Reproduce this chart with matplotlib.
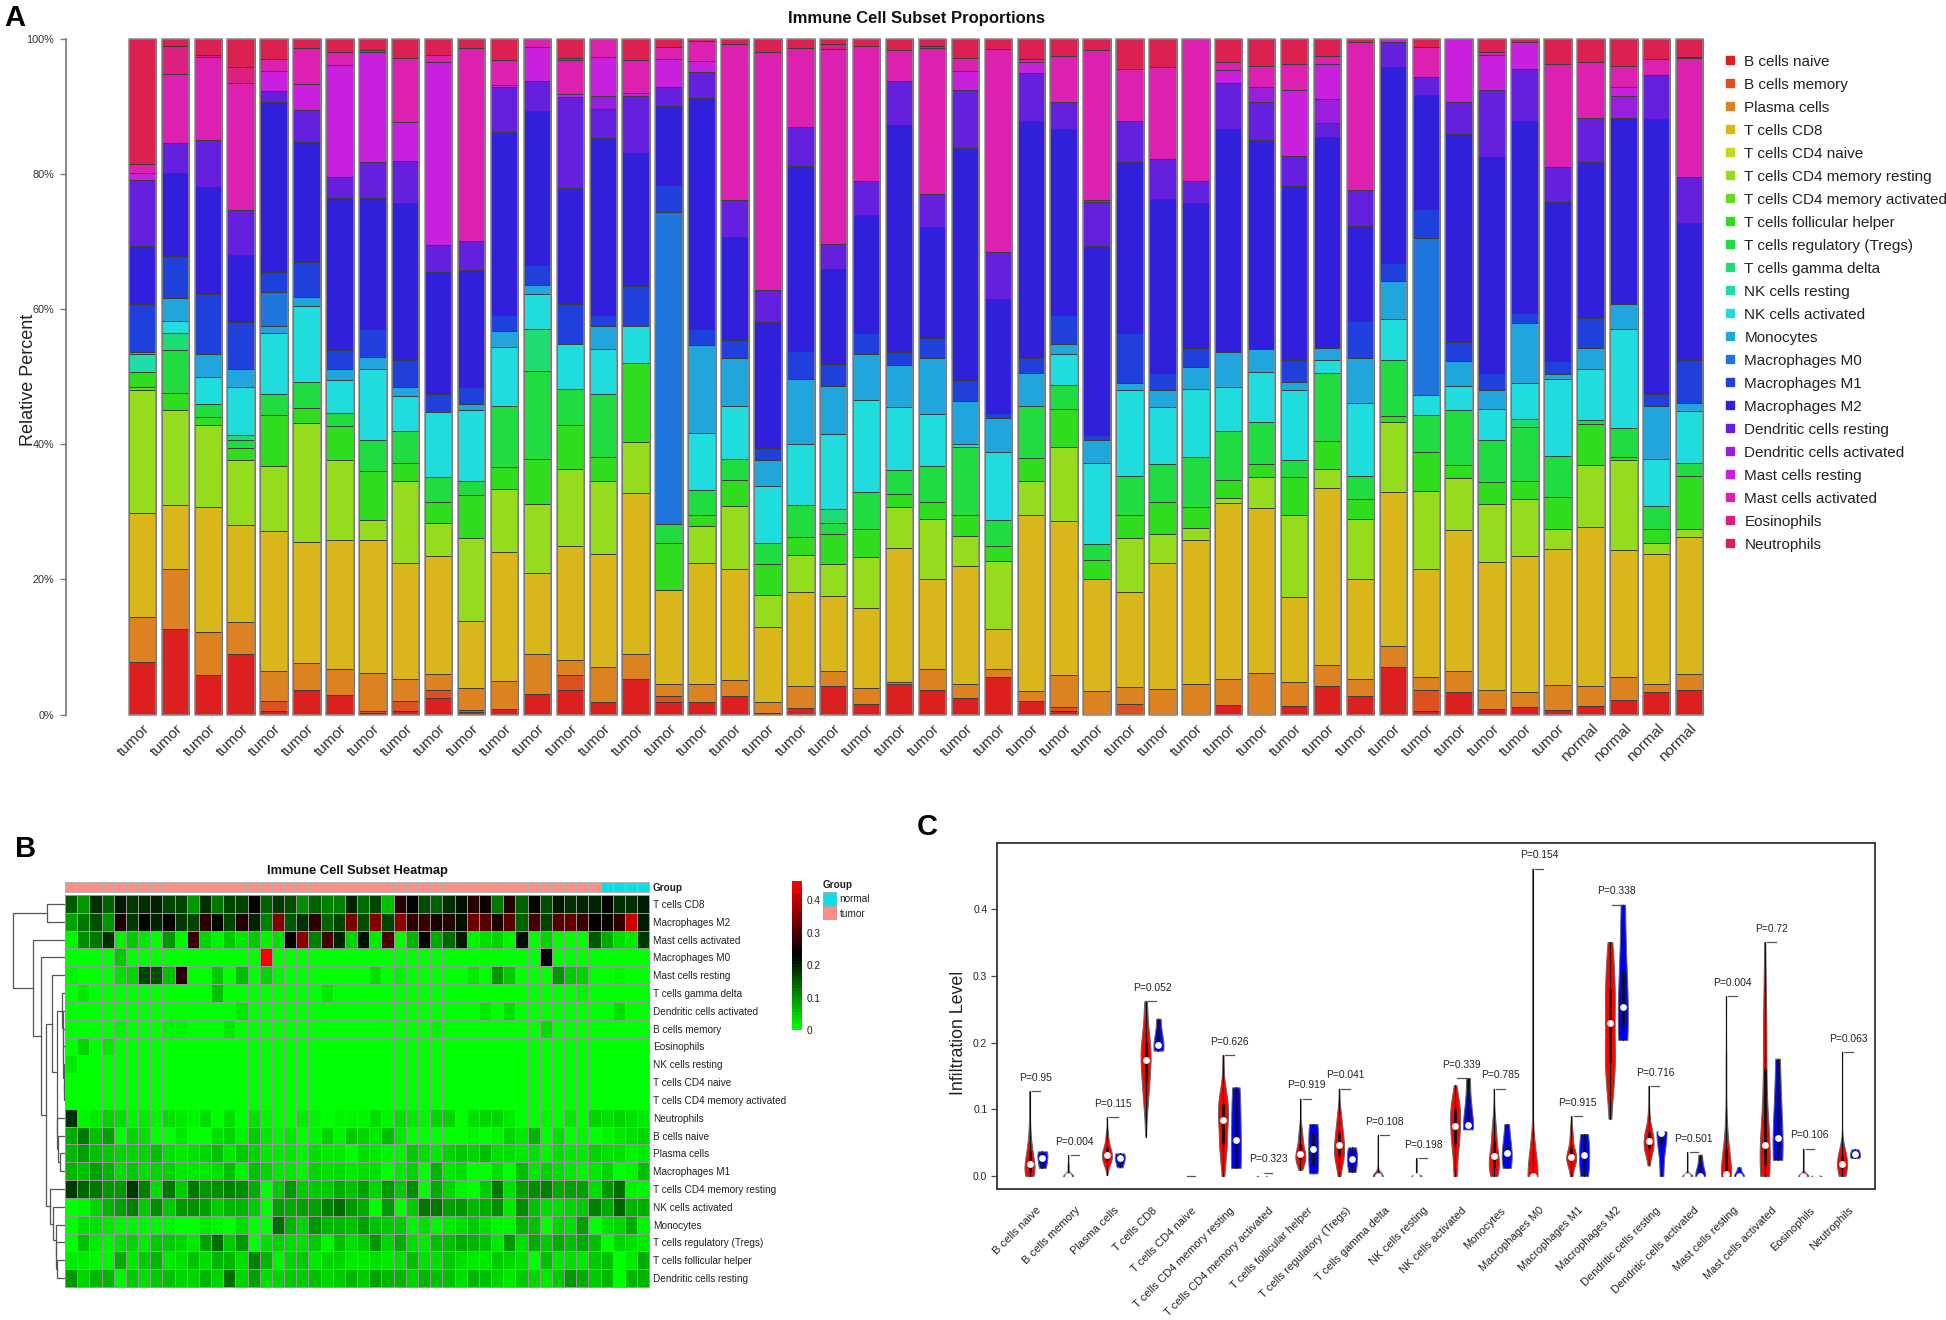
import numpy as np
import matplotlib
matplotlib.use("Agg")
import matplotlib.pyplot as plt
from matplotlib.colors import LinearSegmentedColormap, ListedColormap
from matplotlib.lines import Line2D
from matplotlib.patches import Rectangle

plt.rcParams['font.family'] = ['Liberation Sans', 'DejaVu Sans']

W, H = 1946, 1320

cell_types = ["B cells naive", "B cells memory", "Plasma cells", "T cells CD8", "T cells CD4 naive",
              "T cells CD4 memory resting", "T cells CD4 memory activated", "T cells follicular helper",
              "T cells regulatory (Tregs)", "T cells gamma delta", "NK cells resting", "NK cells activated",
              "Monocytes", "Macrophages M0", "Macrophages M1", "Macrophages M2", "Dendritic cells resting",
              "Dendritic cells activated", "Mast cells resting", "Mast cells activated", "Eosinophils", "Neutrophils"]
keys = "abcdefghijklmnopqrstuv"
colors = ["#DC2020", "#DC5020", "#DC8220", "#D9B61C", "#C9D61E", "#96DC1E", "#64DC1E", "#30DC1E", "#20DC40",
          "#1EDC72", "#20DCA8", "#20DCDC", "#20A5DC", "#2075DC", "#2040DC", "#3020DC", "#6420DC", "#9820DC",
          "#C820DC", "#DC20B0", "#DC2080", "#DC2050"]

# cumulative tops (percent) of each stacked segment, read per sample
s01 = dict(a=7.8, c=14.5, d=29.9, f=48.0, g=48.5, h=50.7, k=53.4, m=53.7, o=60.8, p=69.4, q=79.1, s=80.1, t=81.4, v=100)
s02 = dict(a=12.7, c=21.5, d=31.0, f=45.0, h=47.6, i=53.9, j=56.5, l=58.3, m=61.7, o=67.8, p=80.2, q=84.6, t=94.8, u=98.9, v=100)
s03 = dict(a=5.8, c=12.2, d=30.7, f=42.8, h=44.1, i=46.0, l=49.9, m=53.3, o=62.3, p=78.0, q=85.0, t=97.3, u=97.6, v=100)
s04 = dict(a=9.0, c=13.7, d=28.1, f=37.6, h=39.4, i=40.7, j=41.3, l=48.5, m=51.2, o=58.1, p=68.0, q=74.7, t=93.4, u=95.8, v=100)
s05 = dict(a=0.6, b=2.0, c=6.5, d=27.1, f=36.8, h=44.4, i=47.5, l=56.4, m=57.5, n=62.6, o=65.5, p=90.7, q=92.3, s=95.3, t=97.0, v=100)
s06 = dict(a=3.7, c=7.6, d=25.6, f=43.1, h=45.4, i=49.2, l=60.4, m=61.8, o=66.9, p=84.8, q=89.5, s=93.3, t=98.6, v=100)
s07 = dict(a=2.9, c=6.7, d=25.9, f=37.6, h=42.7, i=44.7, l=49.5, m=51.1, o=53.9, p=76.4, q=79.5, s=96.1, t=98.1, v=100)
s08 = dict(a=0.3, b=0.6, c=6.2, d=25.8, f=28.8, h=36.0, i=40.7, l=51.2, m=52.9, o=57.1, p=76.5, q=81.7, s=98.1, t=98.3, v=100)
s09 = dict(a=0.5, b=2.0, c=5.2, d=22.5, f=34.6, h=37.2, i=41.9, l=47.1, m=48.5, o=52.5, p=75.7, q=81.9, s=87.7, t=97.1, v=100)
s10 = dict(a=2.4, b=3.7, c=6.0, d=23.4, f=28.4, h=31.4, i=35.1, l=44.8, o=47.5, p=65.5, q=69.5, s=96.5, t=97.6, v=100)
s11 = dict(a=0.4, b=0.7, c=4.0, d=13.9, f=26.2, h=32.5, i=34.5, l=45.1, m=46.0, o=48.5, p=65.8, q=70.1, t=98.6, v=100)
s12 = dict(a=0.9, c=5.0, d=24.1, f=33.4, h=36.6, i=45.7, l=54.4, m=56.8, o=59.1, p=86.2, q=92.8, s=93.1, t=96.9, v=100)
s13 = dict(a=3.1, c=8.9, d=20.9, f=31.2, h=37.8, i=50.9, j=57.0, l=62.3, m=63.6, o=66.5, p=89.3, q=93.8, s=98.8, t=100)
s14 = dict(a=3.7, b=5.8, c=8.1, d=24.9, f=36.3, h=42.8, i=48.2, l=54.8, o=60.7, p=77.9, q=91.4, s=91.9, t=96.9, u=97.2, v=100)
s15 = dict(a=1.8, c=7.0, d=23.7, f=34.5, h=38.1, i=47.4, l=54.1, m=57.5, o=59.1, p=85.3, q=89.6, r=91.5, s=97.3, t=100)
s16 = dict(a=5.3, c=9.0, d=32.8, f=40.4, h=52.0, l=57.5, o=63.4, p=83.1, q=91.6, s=92.0, t=96.8, v=100)
s17 = dict(a=1.9, b=2.7, c=4.6, d=18.5, h=25.4, i=28.2, n=74.3, o=78.3, p=90.0, q=92.8, s=97.0, t=98.8, v=100)
s18 = dict(a=1.8, c=4.5, d=22.4, f=27.9, h=29.6, i=33.3, l=41.6, m=54.7, o=57.1, p=91.2, q=95.1, s=96.7, t=99.7, v=100)
s19 = dict(a=2.7, c=5.1, d=21.6, f=30.8, h=34.7, i=37.8, l=45.6, m=52.8, o=55.4, p=70.7, q=76.2, t=99.2, v=100)
s20 = dict(a=0.3, c=1.9, d=12.9, f=17.7, h=22.3, i=25.4, l=33.9, m=37.7, o=39.4, p=58.1, q=62.9, t=98.0, v=100)
s21 = dict(a=1.0, c=4.2, d=18.2, f=23.6, h=26.3, i=31.0, l=40.1, m=49.6, o=53.8, p=81.2, q=87.0, t=98.6, v=100)
s22 = dict(a=4.3, c=6.5, d=17.6, f=22.3, h=26.7, i=28.4, j=30.4, l=41.5, m=48.6, o=51.9, p=65.9, q=69.6, t=98.5, u=99.3, v=100)
s23 = dict(a=1.5, c=4.0, d=15.7, f=23.3, h=27.4, i=33.0, l=46.6, m=53.4, o=56.5, p=73.9, q=79.0, t=99.0, v=100)
s24 = dict(a=4.6, c=4.8, d=24.6, f=30.7, h=32.6, i=36.2, l=45.5, m=51.8, o=53.7, p=87.3, q=93.8, t=98.3, v=100)
s25 = dict(a=3.7, c=6.7, d=20.1, f=29.0, h=31.4, i=36.8, l=44.5, m=52.8, o=55.8, p=72.2, q=77.0, t=98.6, u=98.9, v=100)
s26 = dict(a=2.4, c=4.6, d=22.0, f=26.4, h=29.5, i=39.6, l=40.1, m=46.4, o=49.5, p=83.8, q=92.4, s=95.2, t=97.1, v=100)
s27 = dict(a=5.6, c=6.7, d=12.6, f=22.7, h=25.0, i=28.8, l=38.9, m=43.9, o=44.7, p=61.5, q=68.4, t=98.5, v=100)
s28 = dict(a=2.0, c=3.5, d=29.6, f=34.6, h=38.0, i=45.6, m=50.5, o=52.8, p=87.9, q=94.9, s=96.5, t=97.0, v=100)
s29 = dict(a=0.6, b=1.1, c=5.8, d=28.6, f=39.6, h=45.2, i=48.7, l=53.4, m=54.9, o=59.1, p=86.6, q=90.7, t=97.5, v=100)
s30 = dict(c=3.5, d=20.0, h=22.9, i=25.2, l=37.3, m=40.7, o=41.4, p=69.3, q=75.9, r=76.1, t=98.3, v=100)
s31 = dict(b=1.5, c=4.1, d=18.2, f=26.1, h=29.6, i=35.3, l=48.1, m=49.1, o=56.4, p=81.7, q=87.8, t=95.6, v=100)
s32 = dict(c=3.8, d=22.4, f=26.7, h=31.4, i=37.1, l=45.5, m=48.0, o=50.5, p=76.3, q=82.2, t=95.8, v=100)
s33 = dict(c=4.6, d=25.8, f=27.6, h=30.7, i=38.1, l=48.2, m=51.5, o=54.3, p=75.7, q=79.0, t=100)
s34 = dict(a=1.4, c=5.3, d=31.3, f=32.0, h=34.7, i=42.0, l=48.5, m=53.7, p=86.6, q=93.4, s=95.4, t=96.5, v=100)
s35 = dict(c=6.1, d=30.5, f=35.2, h=37.1, i=43.3, l=50.7, m=54.1, p=85.0, q=90.6, r=92.8, t=96.0, v=100)
s36 = dict(a=1.2, c=4.8, d=17.4, f=29.6, h=35.1, i=37.7, l=48.1, m=49.2, o=52.5, p=78.2, q=82.6, s=92.4, t=96.3, v=100)
s37 = dict(a=4.2, c=7.3, d=33.5, f=36.4, h=40.5, i=50.5, l=52.5, m=54.2, p=85.4, q=87.5, r=91.1, s=96.3, t=97.5, v=100)
s38 = dict(a=2.7, c=5.3, d=20.0, f=28.9, h=31.9, i=35.3, l=46.1, m=52.7, o=58.3, p=72.3, q=77.7, t=99.5, v=100)
s39 = dict(a=7.0, c=10.2, d=33.0, f=43.3, h=44.2, i=52.4, l=58.6, m=64.2, o=66.8, p=95.9, q=99.6, s=100)
s40 = dict(a=0.6, b=3.7, c=5.5, d=21.5, f=33.1, h=38.9, i=44.4, l=47.3, n=70.5, o=74.8, p=91.7, q=94.3, t=98.8, v=100)
s41 = dict(a=3.3, c=6.5, d=27.3, f=35.0, h=37.0, i=45.1, l=48.6, m=52.3, o=55.2, p=85.9, q=90.6, s=99.9, v=100)
s42 = dict(a=0.9, c=3.6, d=22.6, f=31.1, h=34.4, i=40.7, l=45.2, m=48.0, o=50.5, p=82.5, q=92.4, s=97.6, t=98.0, v=100)
s43 = dict(a=1.1, c=3.4, d=23.5, f=31.9, h=34.6, i=42.6, j=43.7, l=49.1, m=57.9, o=59.4, p=87.8, q=95.5, s=99.6, v=100)
s44 = dict(a=0.7, c=4.4, d=24.5, f=27.5, h=32.2, i=38.3, l=49.7, m=50.4, o=52.3, p=75.9, q=81.1, t=96.3, v=100)
s45 = dict(a=1.2, c=4.2, d=27.8, f=37.0, h=43.0, i=43.6, l=51.1, m=54.3, o=58.7, p=81.8, q=88.3, t=96.5, v=100)
s46 = dict(a=2.2, c=5.6, d=24.4, f=37.7, h=38.1, i=42.4, l=57.1, m=60.8, p=88.3, r=91.5, s=92.8, t=96.0, v=100)
s47 = dict(a=3.3, c=4.6, d=23.7, f=25.4, h=27.5, i=30.8, l=37.8, m=45.6, o=47.4, p=88.1, q=94.6, t=97.0, v=100)
s48 = dict(a=3.7, c=6.0, d=26.3, f=27.5, h=35.3, i=37.2, l=44.9, m=46.1, o=52.4, p=72.8, q=79.5, t=97.1, u=97.3, v=100)
samples = [s01, s02, s03, s04, s05, s06, s07, s08, s09, s10, s11, s12, s13, s14, s15, s16, s17, s18, s19, s20,
           s21, s22, s23, s24, s25, s26, s27, s28, s29, s30, s31, s32, s33, s34, s35, s36, s37, s38, s39, s40,
           s41, s42, s43, s44, s45, s46, s47, s48]
groups = ["tumor"] * 44 + ["normal"] * 4

heat_rows = ["T cells CD8", "Macrophages M2", "Mast cells activated", "Macrophages M0", "Mast cells resting",
             "T cells gamma delta", "Dendritic cells activated", "B cells memory", "Eosinophils", "NK cells resting",
             "T cells CD4 naive", "T cells CD4 memory activated", "Neutrophils", "B cells naive", "Plasma cells",
             "Macrophages M1", "T cells CD4 memory resting", "NK cells activated", "Monocytes",
             "T cells regulatory (Tregs)", "T cells follicular helper", "Dendritic cells resting"]
# dendrogram merges: (left node, right node, height); leaves are row numbers, inner nodes are "n<k>"
dendro = [(0, 1, 53), (10, 11, 2), (9, "n1", 4), (8, "n2", 5), (7, "n3", 6), (6, "n4", 7), (5, "n5", 8),
          (14, 15, 15), (13, "n7", 20), (12, "n8", 23), ("n6", "n9", 25), (4, "n10", 40),
          (20, 21, 23), (19, "n12", 27), (18, "n13", 28), (17, "n14", 37), (16, "n15", 46),
          ("n11", "n16", 58), (3, "n17", 71), (2, "n18", 96), ("n0", "n19", 157)]

p_values = ["P=0.95", "P=0.004", "P=0.115", "P=0.052", "", "P=0.626", "P=0.323", "P=0.919", "P=0.041", "P=0.108",
            "P=0.198", "P=0.339", "P=0.785", "P=0.154", "P=0.915", "P=0.338", "P=0.716", "P=0.501", "P=0.004",
            "P=0.72", "P=0.106", "P=0.063"]


def heights(sample):
    out, prev = [], 0.0
    for k in keys:
        if k in sample:
            out.append(sample[k] - prev)
            prev = sample[k]
        else:
            out.append(0.0)
    return out


values = np.array([heights(s) for s in samples])  # percent, samples x cell types

fig = plt.figure(figsize=(W / 100, H / 100), dpi=100, facecolor="white")


def axes_px(l, t, r, b):
    return fig.add_axes([l / W, 1 - b / H, (r - l) / W, (b - t) / H])


def text_px(x, y, s, **kw):
    return fig.text(x / W, 1 - y / H, s, **kw)


def grid_lines(ax, nx, ny, color, lw):
    ax.vlines(np.arange(nx + 1), 0, ny, color=color, lw=lw, clip_on=False)
    ax.hlines(np.arange(ny + 1), 0, nx, color=color, lw=lw, clip_on=False)


# ---------- Panel A ----------
axA = axes_px(66, 38.8, 1712, 714.6)
pitch, c1 = 32.92, 142.4
axA.set_xlim(1 - (c1 - 66) / pitch, 1 + (1712 - c1) / pitch)
axA.set_ylim(0, 100)
xpos = np.arange(1, 49)
bottoms = np.zeros(48)
for j in range(len(cell_types)):
    mask = values[:, j] > 0
    axA.bar(xpos[mask], values[mask, j], bottom=bottoms[mask], width=0.833, color=colors[j],
            edgecolor="#3c3c3c", linewidth=0.7, zorder=2)
    bottoms += values[:, j]
axA.bar(xpos, np.full(48, 100.0), width=0.833, fill=False, edgecolor="#8a8a8a", linewidth=1.1, zorder=3, clip_on=False)
for sp in ["top", "right", "bottom"]:
    axA.spines[sp].set_visible(False)
axA.spines["left"].set_color("#777777")
axA.spines["left"].set_linewidth(1.2)
axA.set_yticks([0, 20, 40, 60, 80, 100])
axA.set_yticklabels(["0%", "20%", "40%", "60%", "80%", "100%"], fontsize=7.8, color="#333333")
axA.tick_params(axis="y", length=4.5, width=1, color="#777777", pad=4)
axA.set_xticks(xpos)
axA.set_xticklabels(groups, rotation=45, ha="right", va="top", rotation_mode="anchor", fontsize=11, color="#333333")
axA.tick_params(axis="x", length=0, pad=5)
text_px(28.5, 380, "Relative Percent", rotation=90, ha="center", va="center", fontsize=13, color="#222222")
text_px(916, 18.5, "Immune Cell Subset Proportions", ha="center", va="center", fontsize=12, fontweight="bold", color="#111111")
handles = [Line2D([], [], marker="s", ls="none", ms=5.8, color=c) for c in colors]
fig.legend(handles, cell_types, loc="upper left", bbox_to_anchor=(1722.5 / W, 1 - 54.5 / H), frameon=False, fontsize=11,
           borderpad=0, borderaxespad=0, labelspacing=0.59, handlelength=1.0, handletextpad=0.43, numpoints=1,
           labelcolor="#222222")

# ---------- Panel B ----------
hm_l, hm_r, hm_t, hm_b = 65, 649.3, 895, 1287
axH = axes_px(hm_l, hm_t, hm_r, hm_b)
order = [cell_types.index(r) for r in heat_rows]
M = values[:, order].T / 100.0
heat_cmap = LinearSegmentedColormap.from_list("gbr", ["#00FF00", "#000000", "#FF0000"], N=50)
heat_max = 0.46
axH.pcolormesh(M, cmap=heat_cmap, vmin=0, vmax=heat_max, linewidth=0)
grid_lines(axH, 48, 22, "#9a9a9a", 0.7)
axH.set_ylim(22, 0)
axH.set_xticks([])
axH.yaxis.tick_right()
axH.set_yticks(np.arange(22) + 0.5)
axH.set_yticklabels(heat_rows, fontsize=7.2, color="#222222")
axH.tick_params(axis="y", length=0, pad=3)
for sp in axH.spines.values():
    sp.set_visible(False)

axG = axes_px(hm_l, 882, hm_r, 891.8)
group_colors = {"normal": "#10DCE8", "tumor": "#FA8F88"}
axG.pcolormesh(np.array([[0 if g == "tumor" else 1 for g in groups]]),
               cmap=ListedColormap([group_colors["tumor"], group_colors["normal"]]), vmin=0, vmax=1, linewidth=0)
grid_lines(axG, 48, 1, "#b4b4b4", 0.7)
axG.set_xticks([])
axG.set_yticks([])
for sp in axG.spines.values():
    sp.set_visible(False)
text_px(652.7, 888, "Group", fontsize=7.2, fontweight="bold", va="center", ha="left", color="#222222")
text_px(357, 871, "Immune Cell Subset Heatmap", ha="center", va="center", fontsize=9.3, fontweight="bold", color="#111111")

# dendrogram
axD = axes_px(0, hm_t, hm_l, hm_b)
axD.set_xlim(65 * 3, 0)
axD.set_ylim(22, 0)
axD.axis("off")
nodes = []


def node_pos(n):
    if isinstance(n, str):
        return nodes[int(n[1:])]
    return (0.0, n + 0.5)


for left, right, h in dendro:
    h0, y0 = node_pos(left)
    h1, y1 = node_pos(right)
    axD.plot([h0, h, h, h1], [y0, y0, y1, y1], color="#555555", lw=0.9, solid_joinstyle="miter")
    nodes.append((h, (y0 + y1) / 2))

# colour bar
axC_bar = axes_px(792, 880.7, 802, 1030)
grad = (np.arange(50)[:, None] + 0.5) / 50 * heat_max
axC_bar.imshow(grad, cmap=heat_cmap, vmin=0, vmax=heat_max, aspect="auto", origin="lower",
               extent=[0, 1, 0, heat_max], interpolation="nearest")
axC_bar.set_xticks([])
axC_bar.yaxis.tick_right()
axC_bar.set_yticks([0, 0.1, 0.2, 0.3, 0.4])
axC_bar.set_yticklabels(["0", "0.1", "0.2", "0.3", "0.4"], fontsize=7.2, color="#222222")
axC_bar.tick_params(axis="y", length=0, pad=3)
for sp in axC_bar.spines.values():
    sp.set_visible(False)

# group legend
axL = axes_px(822.7, 891.7, 836.7, 920)
axL.add_patch(Rectangle((0, 1), 1, 1, facecolor=group_colors["normal"], edgecolor="#a8a8a8", lw=0.8))
axL.add_patch(Rectangle((0, 0), 1, 1, facecolor=group_colors["tumor"], edgecolor="#a8a8a8", lw=0.8))
axL.set_xlim(0, 1)
axL.set_ylim(0, 2)
axL.axis("off")
text_px(822.7, 885.5, "Group", fontsize=7.2, fontweight="bold", va="center", ha="left", color="#222222")
text_px(839.5, 899.5, "normal", fontsize=7.2, va="center", ha="left", color="#222222")
text_px(839.5, 914, "tumor", fontsize=7.2, va="center", ha="left", color="#222222")

# ---------- Panel C ----------
axV = axes_px(997, 843, 1874.7, 1188.7)
axV.set_xlim(-1.52, 66.53)
axV.set_ylim(-0.019, 0.4994)
half_width = 0.39
clip_rect = Rectangle((-2, 0), 70, 1, transform=axV.transData)


def violin(vals, x, color):
    lo, hi = vals.min(), vals.max()
    if hi <= lo:
        return
    n = len(vals)
    bw = vals.std(ddof=1) * (4 / (3 * n)) ** 0.2
    grid = np.linspace(lo, hi, 120)
    dens = np.exp(-0.5 * ((grid[:, None] - vals[None, :]) / bw) ** 2).sum(axis=1)
    w = dens / dens.max() * half_width
    axV.fill_betweenx(grid, x - w, x + w, facecolor=color, edgecolor="#666666", linewidth=0.7, zorder=2)
    q1, med, q3 = np.percentile(vals, [25, 50, 75])
    axV.plot([x, x], [lo, hi], color="#111111", lw=0.8, zorder=3)
    axV.plot([x, x], [q1, q3], color="#111111", lw=2, zorder=3, solid_capstyle="butt")
    dot = axV.scatter([x], [med], s=24, color="white", zorder=4, linewidths=0)
    dot.set_clip_path(clip_rect)


is_tumor = np.array([g == "tumor" for g in groups])
for k, name in enumerate(cell_types):
    xt = 1 + 3 * k
    vals = values[:, k] / 100.0
    violin(vals[is_tumor], xt, "#FF0000")
    violin(vals[~is_tumor], xt + 1, "#0000FF")
    top = vals.max()
    axV.plot([xt + 0.18, xt + 0.84], [top, top], color="#555555", lw=0.9, zorder=2)
    if p_values[k]:
        axV.text(xt + 0.5, top + 0.02, p_values[k], ha="center", va="center", fontsize=7.4, color="#222222")
for sp in axV.spines.values():
    sp.set_linewidth(1.3)
    sp.set_color("#333333")
axV.set_yticks([0, 0.1, 0.2, 0.3, 0.4])
axV.set_yticklabels(["0.0", "0.1", "0.2", "0.3", "0.4"], fontsize=7.4, color="#222222")
axV.tick_params(axis="y", length=4, width=0.9, color="#444444", pad=3)
axV.set_xticks(1.5 + 3 * np.arange(22))
axV.set_xticklabels(cell_types, rotation=45, ha="right", va="top", rotation_mode="anchor", fontsize=8, color="#222222")
axV.tick_params(axis="x", length=0, pad=12)
text_px(958.5, 1032.5, "Infiltration Level", rotation=90, ha="center", va="center", fontsize=12.8, color="#222222")

# panel letters
text_px(4, 26, "A", fontsize=21, fontweight="bold", color="black", va="baseline")
text_px(15, 857, "B", fontsize=21, fontweight="bold", color="black", va="baseline")
text_px(917, 835, "C", fontsize=21, fontweight="bold", color="black", va="baseline")

fig.savefig("out.png", dpi=100)
